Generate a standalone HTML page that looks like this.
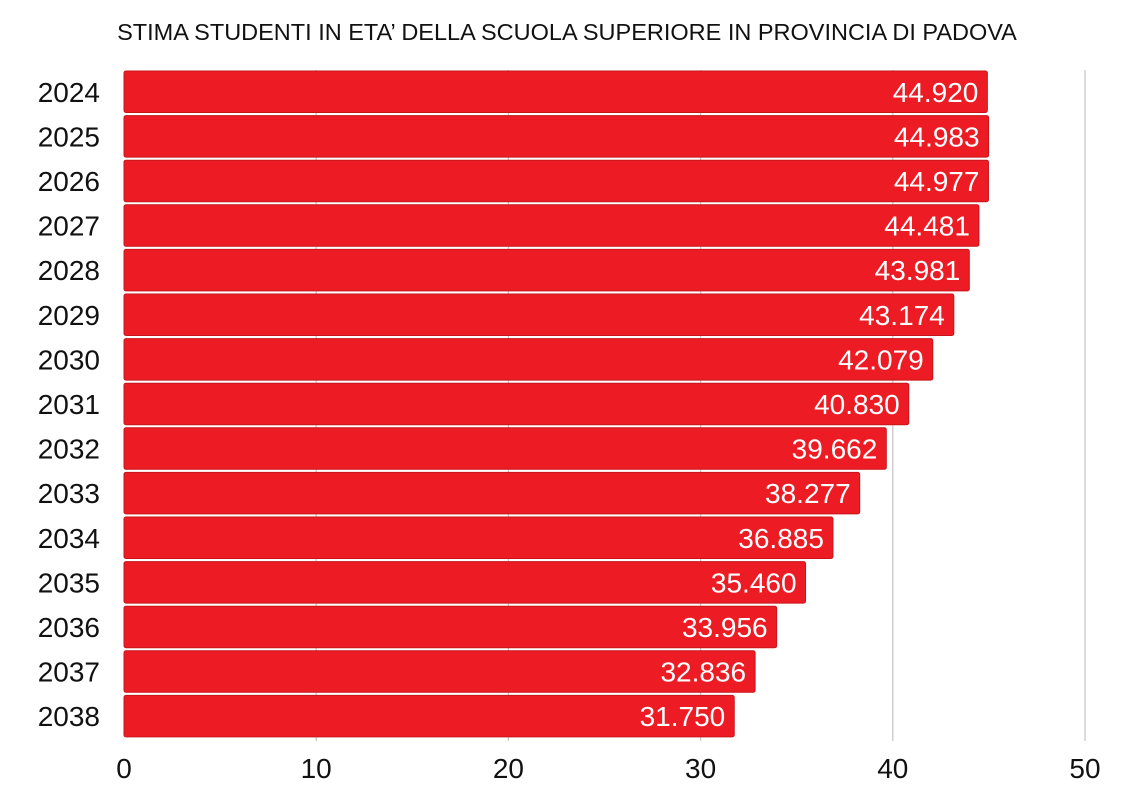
<!DOCTYPE html>
<html><head><meta charset="utf-8"><style>
body{margin:0;background:#fff;width:1140px;height:805px;overflow:hidden;font-family:"Liberation Sans",sans-serif}
</style></head><body>
<svg width="1140" height="805">
<text x="567" y="40" text-anchor="middle" font-size="23.5" fill="#111">STIMA STUDENTI IN ETA’ DELLA SCUOLA SUPERIORE IN PROVINCIA DI PADOVA</text>
<g id="grid"></g><g id="bars"></g><g id="ylab"></g><g id="xlab"></g>
</svg>
<script>
const years=["2024","2025","2026","2027","2028","2029","2030","2031","2032","2033","2034","2035","2036","2037","2038"];
const values=[44.920,44.983,44.977,44.481,43.981,43.174,42.079,40.830,39.662,38.277,36.885,35.460,33.956,32.836,31.750];
const ticks=[0,10,20,30,40,50];
const ns="http://www.w3.org/2000/svg";
const X0=124,X1=1085,XMAX=50,Y0=71,PITCH=44.6,BH=41.5;
const x=v=>X0+v/XMAX*(X1-X0);
const y=i=>Y0+i*PITCH;
function mk(t,a,p){const e=document.createElementNS(ns,t);for(const k in a)e.setAttribute(k,a[k]);p.appendChild(e);return e;}
const grid=document.getElementById('grid'),bars=document.getElementById('bars'),yl=document.getElementById('ylab'),xl=document.getElementById('xlab');
ticks.forEach(t=>{
 if(t>0){const l=mk('line',{x1:x(t),x2:x(t),y1:70,y2:741,stroke:'#c8c8c8','stroke-width':1.3},grid);
 
 }
 const tx=mk('text',{x:x(t),y:778,'text-anchor':'middle','font-size':28,fill:'#111'},xl);
 tx.textContent=t;
 
 
});
years.forEach((yr,i)=>{
 const r=mk('rect',{x:X0,y:y(i),width:x(values[i])-X0,height:BH,rx:2,fill:'#ed1c24',stroke:'#c8141b','stroke-width':1},bars);
 
 
 const v=mk('text',{x:x(values[i])-9,y:y(i)+BH/2+10,'text-anchor':'end','font-size':28,fill:'#fff'},bars);
 v.textContent=values[i].toFixed(3);
 
 
 const t=mk('text',{x:100,y:y(i)+BH/2+10,'text-anchor':'end','font-size':28,fill:'#111'},yl);
 t.textContent=yr;
 
 
});
</script>
</body></html>
